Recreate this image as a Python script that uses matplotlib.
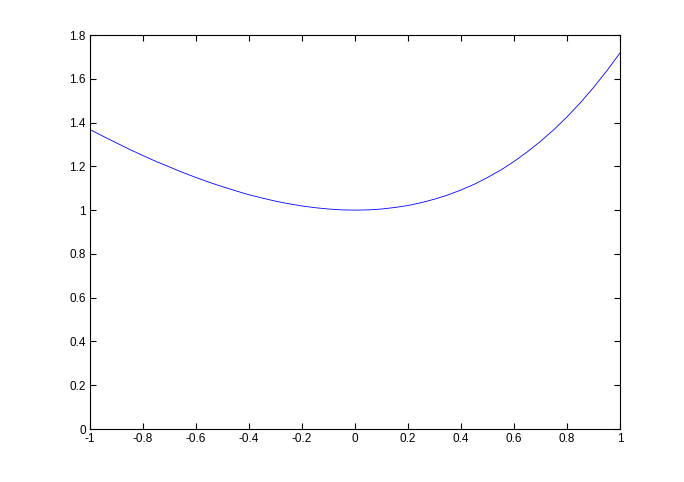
import matplotlib
matplotlib.use("Agg")
import matplotlib.pyplot as plt

# values
x_vals = [-1.0, -0.95, -0.9, -0.85, -0.8, -0.75, -0.7, -0.65, -0.6, -0.55, -0.5,
          -0.45, -0.4, -0.35, -0.3, -0.25, -0.2, -0.15, -0.1, -0.05, 0.0,
          0.05, 0.1, 0.15, 0.2, 0.25, 0.3, 0.35, 0.4, 0.45, 0.5,
          0.55, 0.6, 0.65, 0.7, 0.75, 0.8, 0.85, 0.9, 0.95, 1.0]
y_vals = [1.368, 1.337, 1.307, 1.277, 1.249, 1.222, 1.197, 1.172, 1.149, 1.127, 1.107,
          1.088, 1.070, 1.055, 1.041, 1.029, 1.019, 1.011, 1.005, 1.001, 1.000,
          1.001, 1.005, 1.012, 1.021, 1.034, 1.050, 1.069, 1.092, 1.118, 1.149,
          1.183, 1.222, 1.266, 1.314, 1.367, 1.426, 1.490, 1.560, 1.636, 1.718]
x_ticks = [-1, -0.8, -0.6, -0.4, -0.2, 0, 0.2, 0.4, 0.6, 0.8, 1]
x_labels = ["-1", "-0.8", "-0.6", "-0.4", "-0.2", "0", "0.2", "0.4", "0.6", "0.8", "1"]
y_ticks = [0, 0.2, 0.4, 0.6, 0.8, 1, 1.2, 1.4, 1.6, 1.8]
y_labels = ["0", "0.2", "0.4", "0.6", "0.8", "1", "1.2", "1.4", "1.6", "1.8"]

plt.rcParams['font.family'] = ['Liberation Sans', 'DejaVu Sans']

fig = plt.figure(figsize=(6.84, 4.82), dpi=100)
ax = fig.add_axes([90 / 684, 1 - 429 / 482, 530 / 684, 394 / 482])

ax.plot(x_vals, y_vals, color='#0000ff', linewidth=0.6)

ax.set_xlim(-1, 1)
ax.set_ylim(0, 1.8)
ax.set_xticks(x_ticks)
ax.set_xticklabels(x_labels)
ax.set_yticks(y_ticks)
ax.set_yticklabels(y_labels)
ax.tick_params(direction='in', length=4, width=0.8, labelsize=8.5,
               top=True, right=True, pad=3)
for s in ax.spines.values():
    s.set_linewidth(0.8)

fig.savefig("out.png", dpi=100)
